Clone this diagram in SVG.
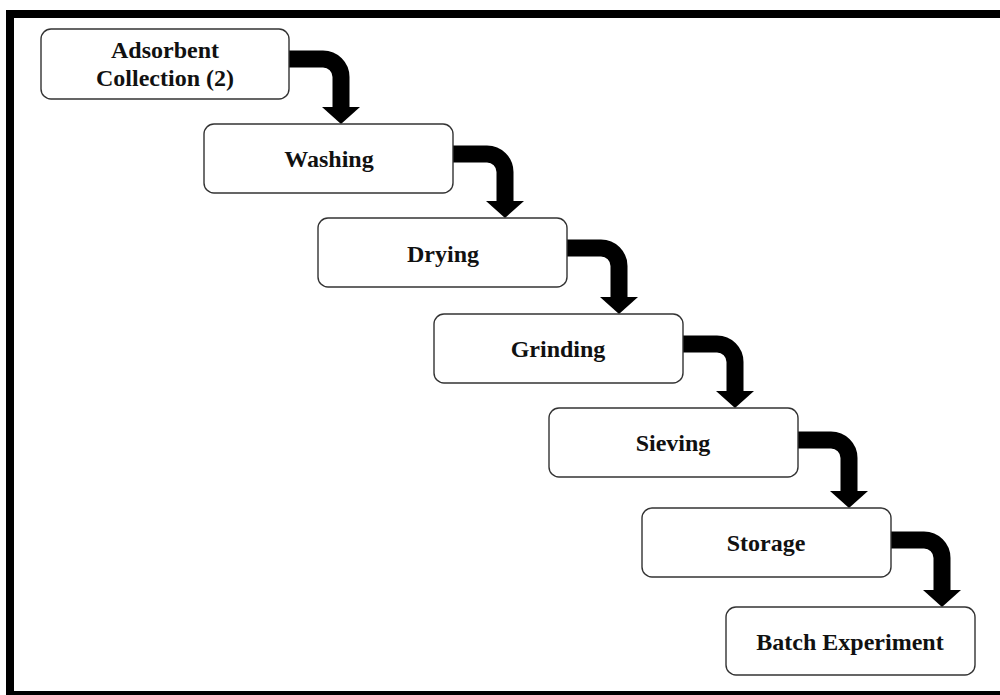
<svg xmlns="http://www.w3.org/2000/svg" width="1000" height="695" viewBox="0 0 1000 695">
<style>
.box{fill:#fff;stroke:#333;stroke-width:1.4}
.lbl{font-family:"Liberation Serif","Times New Roman",serif;font-weight:bold;font-size:24px;fill:#111;text-anchor:middle}
.shaft{fill:none;stroke:#000;stroke-width:17}
.head{fill:#000}
</style>
<rect width="1000" height="695" fill="#fff"/>
<g id="frame">
<rect x="6" y="10" width="994" height="8" fill="#000"/>
<rect x="6" y="10" width="8" height="685" fill="#000"/>
<rect x="6" y="691" width="994" height="4" fill="#000"/>
</g>
<g id="connectors">
<path class="shaft" d="M287,59 H323 A18,18 0 0 1 341,77 V108"/>
<polygon class="head" points="322,107 360,107 341,124"/>
<path class="shaft" d="M451,154 H487 A18,18 0 0 1 505,172 V202"/>
<polygon class="head" points="486,201 524,201 505,218"/>
<path class="shaft" d="M565,248 H601 A18,18 0 0 1 619,266 V298"/>
<polygon class="head" points="600,297 638,297 619,314"/>
<path class="shaft" d="M681,344 H717 A18,18 0 0 1 735,362 V392"/>
<polygon class="head" points="716,391 754,391 735,408"/>
<path class="shaft" d="M796,440 H831 A18,18 0 0 1 849,458 V492"/>
<polygon class="head" points="830,491 868,491 849,508"/>
<path class="shaft" d="M889,540 H924 A18,18 0 0 1 942,558 V591"/>
<polygon class="head" points="923,590 961,590 942,607"/>
</g>
<g id="n1"><rect class="box" x="41" y="29" width="248" height="70" rx="10"/><text class="lbl" x="165" y="58">Adsorbent</text><text class="lbl" x="165" y="86">Collection (2)</text></g>
<g id="n2"><rect class="box" x="204" y="124" width="249" height="69" rx="10"/><text class="lbl" x="329" y="167">Washing</text></g>
<g id="n3"><rect class="box" x="318" y="218" width="249" height="69" rx="10"/><text class="lbl" x="443" y="262">Drying</text></g>
<g id="n4"><rect class="box" x="434" y="314" width="249" height="69" rx="10"/><text class="lbl" x="558" y="357">Grinding</text></g>
<g id="n5"><rect class="box" x="549" y="408" width="249" height="69" rx="10"/><text class="lbl" x="673" y="451">Sieving</text></g>
<g id="n6"><rect class="box" x="642" y="508" width="249" height="69" rx="10"/><text class="lbl" x="766" y="551">Storage</text></g>
<g id="n7"><rect class="box" x="726" y="607" width="249" height="68" rx="10"/><text class="lbl" x="850" y="650">Batch Experiment</text></g>
</svg>
